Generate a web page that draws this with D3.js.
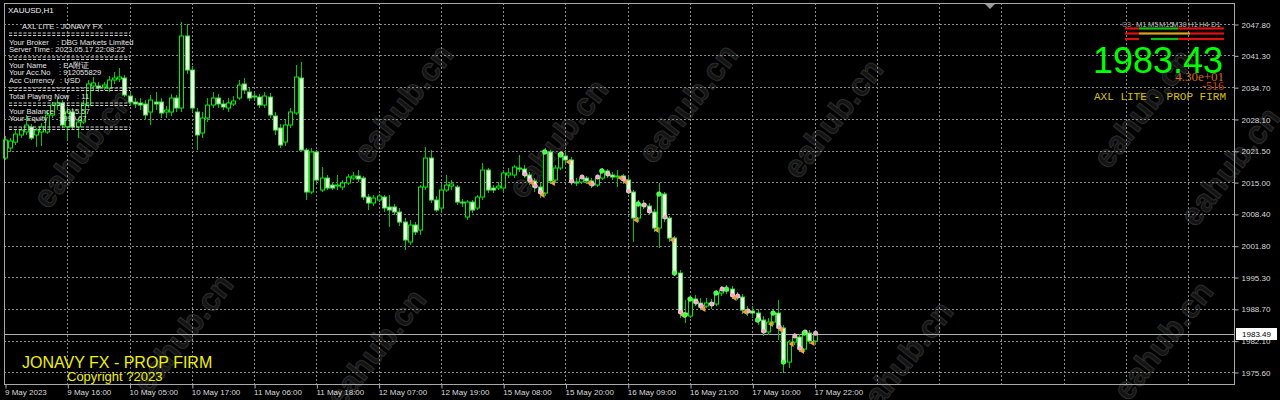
<!DOCTYPE html>
<html><head><meta charset="utf-8">
<script src="https://cdn.jsdelivr.net/npm/d3@7"></script>
<style>
html,body{margin:0;padding:0;background:#000;overflow:hidden;}
svg{display:block;font-family:"Liberation Sans",Arial,sans-serif;}
</style></head><body>
<svg id="chart" width="1280" height="400"></svg>
<script>
// ---------------- DATA ----------------
const symbolTitle = "XAUUSD,H1";
const opens = [2019.99,2022.07,2023.31,2024.77,2025.39,2026.43,2024.77,2025.39,2025.39,2028.92,2030.99,2031.41,2026.43,2029.54,2026.43,2027.46,2030.99,2034.93,2034.93,2034.73,2034.52,2036.18,2036.39,2036.59,2032.86,2031.61,2031.41,2031.20,2029.54,2031.61,2031.61,2029.54,2029.54,2032.44,2030.37,2045.31,2038.25,2029.54,2025.18,2028.29,2030.99,2032.44,2031.20,2030.37,2031.20,2032.44,2035.35,2033.69,2032.86,2032.65,2030.99,2032.65,2028.71,2026.22,2023.31,2026.84,2029.33,2036.59,2021.65,2012.94,2021.24,2013.35,2015.84,2014.39,2014.18,2013.98,2014.81,2015.84,2016.26,2015.84,2011.90,2010.66,2011.28,2011.90,2009.83,2009.83,2008.79,2006.71,2002.56,2006.09,2005.05,2013.98,2019.99,2011.28,2009.62,2013.35,2014.18,2013.98,2010.86,2007.75,2010.86,2009.62,2011.90,2017.50,2013.77,2013.77,2013.77,2016.47,2016.47,2017.92,2017.71,2016.47,2015.22,2013.98,2012.73,2021.24,2015.43,2017.92,2020.41,2019.58,2015.01,2015.01,2015.84,2015.22,2014.39,2015.84,2017.30,2016.47,2016.05,2016.26,2015.43,2012.94,2007.54,2010.45,2010.03,2008.79,2005.47,2012.52,2007.54,2003.39,1996.13,1987.83,1987.21,1990.74,1989.91,1989.28,1989.91,1989.70,1991.98,1992.40,1992.81,1991.36,1991.15,1988.45,1988.25,1987.83,1986.38,1983.89,1985.96,1987.83,1984.72,1977.66,1981.81,1982.85,1980.36,1983.68,1982.02];
const highs = [2024.56,2024.14,2025.80,2026.43,2028.92,2027.05,2026.22,2027.26,2029.95,2031.61,2032.44,2032.03,2030.37,2030.37,2028.29,2032.03,2036.18,2036.80,2035.76,2035.76,2037.01,2037.84,2038.67,2037.22,2033.69,2032.44,2032.44,2032.03,2033.07,2033.69,2032.44,2030.78,2033.27,2033.07,2048.22,2047.80,2039.08,2030.37,2029.54,2032.44,2033.69,2033.27,2032.03,2032.44,2032.86,2036.18,2036.59,2034.52,2033.69,2033.27,2033.69,2033.48,2029.54,2027.05,2027.88,2030.37,2039.29,2039.91,2022.07,2022.07,2021.65,2018.13,2016.47,2015.01,2016.47,2015.43,2016.67,2017.09,2017.50,2016.26,2012.52,2012.32,2012.52,2012.32,2012.32,2010.45,2009.62,2007.54,2007.13,2006.71,2014.39,2022.28,2021.65,2012.11,2014.39,2016.47,2015.43,2014.39,2011.49,2011.28,2011.28,2012.32,2018.96,2017.92,2014.39,2015.01,2017.50,2017.92,2018.54,2020.62,2018.54,2017.09,2015.84,2014.81,2022.07,2021.65,2018.54,2021.24,2021.65,2020.20,2015.84,2016.47,2016.26,2015.84,2016.26,2017.92,2017.71,2017.09,2017.50,2016.67,2016.26,2013.35,2011.28,2011.28,2010.66,2009.41,2014.81,2012.94,2007.96,2003.81,1996.75,1990.53,1991.57,1991.57,1990.94,1990.94,1990.74,1992.60,1993.43,1993.64,1993.43,1992.19,1991.77,1989.28,1989.28,1988.66,1987.21,1986.79,1988.45,1990.53,1985.34,1982.23,1983.68,1983.47,1984.30,1984.30,1984.30];
const lows = [2019.58,2021.24,2022.69,2024.14,2024.77,2023.73,2022.28,2022.48,2024.97,2028.29,2029.95,2026.22,2023.73,2025.80,2024.14,2027.05,2030.37,2034.10,2033.69,2034.10,2033.69,2035.35,2035.76,2032.65,2030.78,2030.37,2029.95,2027.88,2026.84,2029.95,2028.29,2028.29,2028.71,2029.54,2029.54,2037.42,2029.54,2021.65,2024.14,2027.46,2030.37,2030.37,2029.95,2029.54,2030.78,2032.03,2033.27,2031.82,2032.03,2030.37,2030.37,2028.29,2024.77,2022.07,2022.48,2026.22,2028.92,2021.24,2011.28,2012.52,2014.81,2012.94,2013.35,2013.35,2013.35,2013.35,2014.39,2015.43,2015.01,2011.28,2009.20,2010.03,2010.86,2008.79,2005.68,2008.17,2005.88,2000.90,2001.94,2004.02,2004.02,2013.35,2010.66,2008.79,2008.79,2012.94,2013.35,2010.24,2009.83,2007.13,2008.58,2009.20,2011.28,2012.73,2012.73,2013.35,2012.94,2015.84,2015.84,2017.09,2015.84,2014.39,2012.94,2011.69,2012.11,2014.60,2014.81,2017.50,2018.75,2014.39,2014.18,2014.60,2014.60,2013.77,2013.98,2015.43,2015.84,2015.43,2013.98,2014.60,2012.52,2002.56,2006.71,2009.41,2008.17,2004.64,2001.32,2006.71,2002.56,1995.51,1986.79,1985.76,1986.79,1989.28,1988.45,1988.87,1988.66,1989.28,1991.36,1991.77,1990.74,1990.53,1987.62,1987.21,1986.79,1985.34,1983.06,1983.27,1985.34,1982.23,1975.38,1976.42,1981.19,1979.74,1979.74,1981.40,1981.61];
const closes = [2023.73,2023.52,2024.97,2025.80,2026.84,2024.14,2025.80,2026.43,2028.92,2030.99,2031.41,2026.84,2029.54,2026.43,2027.46,2031.20,2035.35,2035.56,2034.52,2035.14,2036.18,2036.59,2036.80,2033.07,2031.61,2031.20,2030.99,2028.92,2032.03,2031.20,2029.33,2029.95,2032.44,2030.37,2045.31,2038.25,2030.37,2024.77,2028.29,2030.99,2032.44,2031.20,2030.58,2031.41,2031.82,2035.14,2034.10,2032.44,2032.65,2030.99,2032.86,2028.92,2025.80,2022.69,2026.84,2029.54,2036.80,2021.65,2012.94,2021.24,2015.43,2015.84,2013.77,2013.77,2014.39,2014.81,2016.05,2016.26,2015.64,2011.90,2010.66,2011.69,2012.11,2009.62,2009.20,2008.79,2006.71,2002.98,2006.09,2004.64,2013.98,2019.99,2011.28,2009.20,2013.35,2014.39,2014.60,2010.86,2010.66,2010.86,2009.20,2011.90,2017.50,2013.35,2013.35,2014.18,2016.88,2016.88,2018.13,2017.71,2016.47,2015.22,2013.98,2012.73,2021.24,2015.22,2017.92,2020.62,2019.58,2015.01,2014.81,2015.84,2015.22,2014.39,2015.84,2017.30,2016.47,2016.05,2016.26,2015.43,2012.94,2007.54,2010.45,2010.03,2008.79,2005.47,2012.52,2007.54,2003.39,1996.13,1987.83,1987.42,1990.74,1989.91,1989.08,1989.91,1989.49,1991.98,1992.60,1992.81,1991.36,1991.15,1988.45,1988.04,1987.83,1986.38,1983.89,1985.96,1987.83,1984.72,1977.66,1981.81,1982.85,1980.36,1983.68,1982.02,1983.43];

const yTickValues = [2047.80,2041.30,2034.70,2028.10,2021.50,2015.00,2008.40,2001.80,1995.30,1988.70,1982.10,1975.60];
const xTickBars = [0,12,24,36,48,60,72,84,96,108,120,132,144,156];
const xTickLabels = ["9 May 2023","9 May 16:00","10 May 05:00","10 May 17:00","11 May 06:00","11 May 18:00","12 May 07:00","12 May 19:00","15 May 08:00","15 May 20:00","16 May 09:00","16 May 21:00","17 May 10:00","17 May 22:00"];
const lastPrice = 1983.49;
const bidText = "1983.43";
const infoLine1 = "4.30e+01";
const infoLine2 = "-516";
const eaTitle = "AXL LITE - PROP FIRM";
const tfLabels = ["M1","M5","M15","M30","H1","H4","D1"];
const tfRow1 = ["dn","up","up","up","dn","dn","dn"];
const tfRow2 = ["dn","fl","fl","fl","fl","dn","dn"];
const tfRow3 = ["dn","no","up","up","dn","dn","dn"];
const panelTitle = "AXL LITE - JONAVY FX";
const panelLabels = ["Your Broker","Server Time","Your Name","Your Acc.No","Acc Currency","Total Playing Now","Your Balance","Your Equity"];
const panelValues = [": DBG Markets Limited",": 2023.05.17 22:08:22",": EA附证",": 912055829",": USD",": 11",": 1015.57",": 999.67"];
const footer1 = "JONAVY FX - PROP FIRM";
const footer2 = "Copyright ?2023";
const watermark = "eahub.cn";
const signalPink = [100,101,102,103,107,109,111,113,114,116,119,120,123,124,127,130,133,134,136,138,140,141,143,145,146,149,152,153,154,156];
const signalOrange = [101,103,105,108,112,118,119,121,125,128,130,134,140,142,147,149,151,153,155];
const signalGreen = [104,107,115,122,126,129,131,132,137,139,145,148,150,154];

// ---------------- DRAW ----------------
const svg = d3.select("#chart");
const P = {left:4, right:1234, top:3, bottom:384};
const x = d3.scaleLinear().domain([0,156]).range([5, 814.6]);
const y = d3.scaleLinear().domain([1975.60, 2047.80]).range([372, 24]);

svg.append("rect").attr("width",1280).attr("height",400).attr("fill","#000");

// watermarks (faint)
const wmSpots = [[85,150],[405,105],[560,140],[690,105],[835,120],[1145,110],[1232,168],[185,335],[378,350],[905,362],[1165,342]];
svg.append("g").selectAll("text").data(wmSpots).join("text")
  .attr("transform",d=>`translate(${d[0]},${d[1]}) rotate(-52)`)
  .attr("text-anchor","middle").attr("dominant-baseline","middle")
  .attr("font-size",32).attr("font-weight","bold")
  .attr("fill","#141414").attr("stroke","#2c2c2c").attr("stroke-width",1)
  .text(watermark);

// grid
const grid = svg.append("g");
grid.selectAll("line.h").data(yTickValues).join("line")
  .attr("x1",P.left).attr("x2",P.right).attr("y1",d=>Math.round(y(d))+0.5).attr("y2",d=>Math.round(y(d))+0.5)
  .attr("stroke","#8a8a8a").attr("stroke-dasharray","2,2").attr("stroke-width",1);
const gridBars = d3.range(12, 240, 12);
grid.selectAll("line.v").data(gridBars).join("line")
  .attr("y1",P.top).attr("y2",P.bottom).attr("x1",d=>Math.round(x(d))+0.5).attr("x2",d=>Math.round(x(d))+0.5)
  .attr("stroke","#8a8a8a").attr("stroke-dasharray","2,2").attr("stroke-width",1);

// current price line
svg.append("line").attr("x1",P.left).attr("x2",P.right)
  .attr("y1",Math.round(y(lastPrice))+0.5).attr("y2",Math.round(y(lastPrice))+0.5)
  .attr("stroke","#b0b0b0").attr("stroke-width",1);

// candles
const idx = d3.range(opens.length);
const cg = svg.append("g");
cg.selectAll("line.w").data(idx).join("line")
  .attr("x1",i=>Math.round(x(i))+0.5).attr("x2",i=>Math.round(x(i))+0.5)
  .attr("y1",i=>y(highs[i])).attr("y2",i=>y(lows[i]))
  .attr("stroke","#00c800").attr("stroke-width",1);
cg.selectAll("rect").data(idx).join("rect")
  .attr("x",i=>Math.round(x(i))-1.5)
  .attr("width",4)
  .attr("y",i=>y(Math.max(opens[i],closes[i])))
  .attr("height",i=>Math.max(1,Math.abs(y(opens[i])-y(closes[i]))))
  .attr("fill",i=>closes[i]>=opens[i]?"#000":"#eaffe4")
  .attr("stroke",i=>closes[i]>=opens[i]?"#00f000":"#40e040")
  .attr("stroke-width",1);

// signals
const sg = svg.append("g");
sg.selectAll("circle.p").data(signalPink).join("circle")
  .attr("cx",i=>x(i)+1).attr("cy",i=>y(closes[i])-1).attr("r",2.2)
  .attr("fill","#ff9fd0").attr("stroke","#ffe0f0").attr("stroke-width",0.6);
sg.selectAll("path.o").data(signalOrange).join("path")
  .attr("d",i=>{const cx=x(i)+3, cy=y(closes[i])+2; return `M${cx-3},${cy} L${cx+2},${cy-3} L${cx+2},${cy+3} Z`;})
  .attr("fill","#f0a040");
sg.selectAll("circle.g").data(signalGreen).join("circle")
  .attr("cx",i=>x(i)).attr("cy",i=>y(closes[i])).attr("r",2.4)
  .attr("fill","#40ff40").attr("stroke","#b0ffb0").attr("stroke-width",0.5);

// frame
svg.append("rect").attr("x",P.left+0.5).attr("y",P.top+0.5).attr("width",P.right-P.left).attr("height",P.bottom-P.top)
  .attr("fill","none").attr("stroke","#a8a8a8").attr("stroke-width",1);
// chart shift marker
svg.append("path").attr("d","M985,4 L995,4 L990,9 Z").attr("fill","#9a9a9a");

// y axis
const yAxis = d3.axisRight(y).tickValues(yTickValues).tickFormat(d3.format(".2f")).tickSize(4).tickPadding(3);
const ya = svg.append("g").attr("transform",`translate(${P.right+0.5},0.5)`).call(yAxis);
ya.select(".domain").remove();
ya.selectAll("line").attr("stroke","#b0b0b0");
ya.selectAll("text").attr("fill","#d8d8d8").style("font-size","8px").style("font-family","Liberation Sans, Arial");

// x axis
const xAxis = d3.axisBottom(x).tickValues(xTickBars).tickFormat((d,i)=>xTickLabels[i]).tickSize(4).tickPadding(1);
const xa = svg.append("g").attr("transform",`translate(0.5,${P.bottom+0.5})`).call(xAxis);
xa.select(".domain").remove();
xa.selectAll("line").attr("stroke","#b0b0b0");
xa.selectAll("text").attr("fill","#d8d8d8").style("font-size","8px").attr("text-anchor","start").attr("dx",-1).style("font-family","Liberation Sans, Arial");

// current price label
const lpY = Math.round(y(lastPrice));
svg.append("rect").attr("x",1236).attr("y",lpY-6).attr("width",41).attr("height",12).attr("fill","#fff");
svg.append("text").attr("x",1256.5).attr("y",lpY+3).attr("text-anchor","middle").style("font-size","8px").attr("fill","#000").text(lastPrice.toFixed(2));

// title
svg.append("text").attr("x",8).attr("y",13).style("font-size","8px").attr("fill","#f0f0f0").text(symbolTitle);

// left info panel
const pan = svg.append("g").style("font-size","7.6px").attr("fill","#e6e6e6");
pan.append("text").attr("x",22).attr("y",28.5).text(panelTitle);
const sepYs = [33,57,88,103,127];
sepYs.forEach(sy=>{
  [0,2.5].forEach(o=>pan.append("line").attr("x1",9).attr("x2",130).attr("y1",sy+o).attr("y2",sy+o)
     .attr("stroke","#d0d0d0").attr("stroke-width",1).attr("stroke-dasharray","3.2,1.6"));
});
const rowYs = [44.5,51.5,67.5,75,82.5,98.5,114,121];
const colonXs = [57,51,59,59,60,77,58,59];
panelLabels.forEach((t,i)=>{
  pan.append("text").attr("x",9).attr("y",rowYs[i]).text(t);
  pan.append("text").attr("x",colonXs[i]).attr("y",rowYs[i]).text(panelValues[i]);
});

// top-right panel
const tfX = [1136,1148,1159,1172,1188,1199,1211];
svg.append("g").selectAll("text").data(tfLabels).join("text")
  .attr("x",(d,i)=>tfX[i]).attr("y",27).style("font-size","7.5px").attr("fill","#b8b8b8").text(d=>d);
svg.append("text").attr("x",1122).attr("y",27).style("font-size","7px").attr("fill","#909090").text("C3");
const tfEdges = [1125,1139,1151,1164,1178,1190,1203,1224];
const tfCol = {dn:"#e01010", up:"#10c010", fl:"#e0a020", no:"#000"};
[[tfRow1,28.5],[tfRow2,33.5],[tfRow3,39]].forEach(([row,ry])=>{
  svg.append("g").selectAll("line").data(row).join("line")
    .attr("x1",(d,i)=>tfEdges[i]).attr("x2",(d,i)=>tfEdges[i+1])
    .attr("y1",ry).attr("y2",ry).attr("stroke",d=>tfCol[d]).attr("stroke-width",2.2);
});
svg.append("text").attr("x",1093).attr("y",73).style("font-size","36px").attr("fill","#00ff00").text(bidText);
svg.append("text").attr("x",1224).attr("y",81).attr("text-anchor","end").style("font-size","13px")
  .style("font-family","'Liberation Serif','Times New Roman',serif").attr("fill","#d2691e").text(infoLine1);
svg.append("text").attr("x",1224).attr("y",90).attr("text-anchor","end").style("font-size","12px")
  .style("font-family","'Liberation Serif','Times New Roman',serif").attr("fill","#d8401a").text(infoLine2);
svg.append("text").attr("x",1094).attr("y",99.5).style("font-size","11px")
  .style("font-family","'Liberation Mono','Courier New',monospace").attr("fill","#d8c000").text(eaTitle);

// footer
svg.append("text").attr("x",22).attr("y",368).style("font-size","16px").attr("fill","#f0f000").text(footer1);
svg.append("text").attr("x",67).attr("y",381).style("font-size","13px").attr("fill","#f0f000").text(footer2);
</script>
</body></html>
